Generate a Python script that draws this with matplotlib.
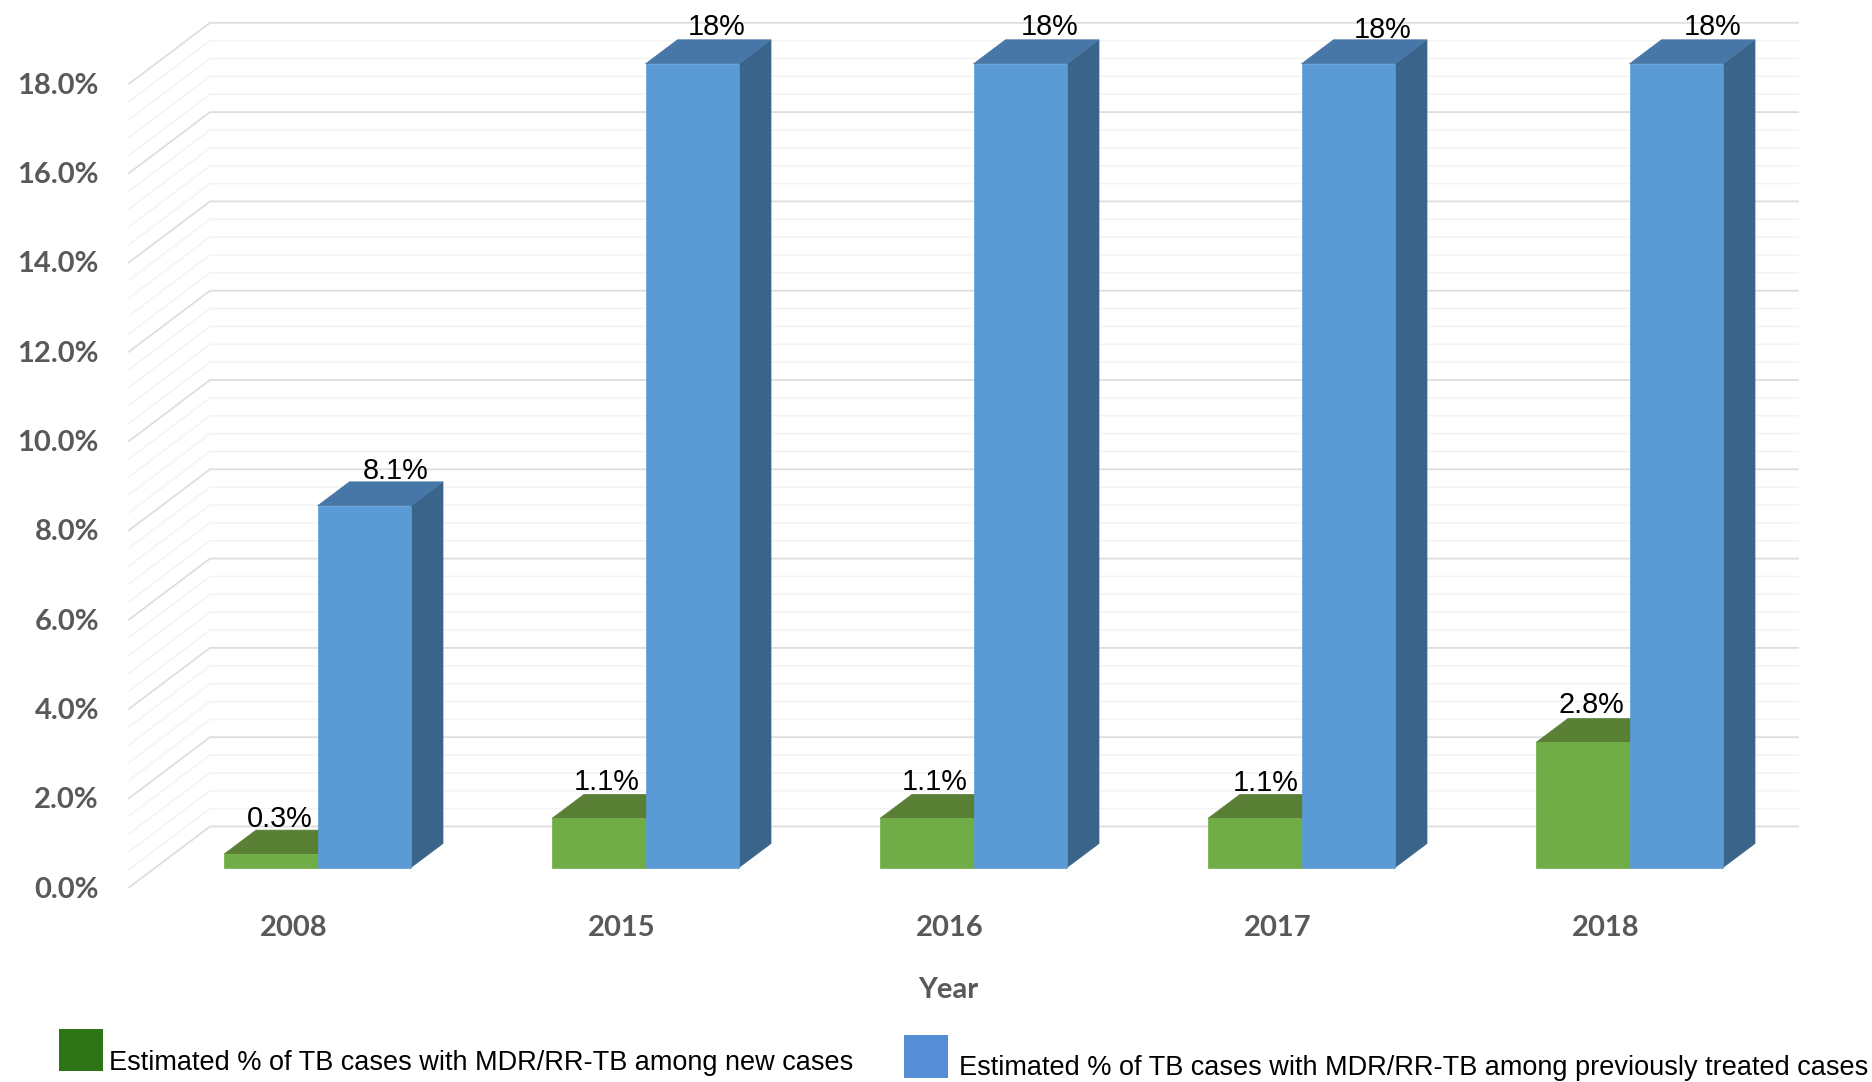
import numpy as np
import matplotlib
matplotlib.use('Agg')
import matplotlib.pyplot as plt
from matplotlib.patches import Polygon, Rectangle

years = ['2008', '2015', '2016', '2017', '2018']
new_cases = [0.3, 1.1, 1.1, 1.1, 2.8]
prev_treated = [8.1, 18, 18, 18, 18]
new_labels = ['0.3%', '1.1%', '1.1%', '1.1%', '2.8%']
prev_labels = ['8.1%', '18%', '18%', '18%', '18%']
y_ticks = [0, 2, 4, 6, 8, 10, 12, 14, 16, 18]
legend_new = 'Estimated % of TB cases with MDR/RR-TB among new cases'
legend_prev = 'Estimated % of TB cases with MDR/RR-TB among previously treated cases'

W, H = 1872, 1082
PX_PER_CAT = 328.0      # pixels between year groups
PX_PER_PCT = 44.65      # pixels per percentage point
X0_PX, Y0_PX = 317.5, 867.5   # where the first group centre / bar base sits

fig = plt.figure(figsize=(W / 100, H / 100), dpi=100, facecolor='white')
ax = fig.add_axes([0, 0, 1, 1])
ax.set_xlim(-X0_PX / PX_PER_CAT, (W - X0_PX) / PX_PER_CAT)
ax.set_ylim(-(H - Y0_PX) / PX_PER_PCT, Y0_PX / PX_PER_PCT)
ax.axis('off')


def dx(px):
    return px / PX_PER_CAT


def dy(px):
    return px / PX_PER_PCT


bar_w = dx(93.5)
# oblique offset of a bar's back edge
depth_x, depth_y = dx(32), dy(24)

# wall: front edge of the floor, back corner, right end of the back wall
front_x, front_y = dx(129 - X0_PX), dy(-20)
back_x, back_y = dx(210 - X0_PX), dy(41)
right_x = dx(1798 - X0_PX)

for v in np.arange(0, 18.01, 0.4):
    major = abs(v / 2 - round(v / 2)) < 1e-6
    c = '#dedede' if major else '#f3f3f3'
    lw = 1.3 if major else 1.1
    ax.plot([front_x, back_x, right_x],
            [front_y + v, back_y + v, back_y + v],
            color=c, lw=lw, zorder=1, solid_joinstyle='miter')


def box(x_left, value, front, top, side, z):
    x_right = x_left + bar_w
    ax.add_patch(Polygon([(x_right, 0), (x_right + depth_x, depth_y),
                          (x_right + depth_x, value + depth_y), (x_right, value)],
                         closed=True, fc=side, ec=side, lw=0.5, zorder=z))
    ax.add_patch(Polygon([(x_left, value), (x_left + depth_x, value + depth_y),
                          (x_right + depth_x, value + depth_y), (x_right, value)],
                         closed=True, fc=top, ec=top, lw=0.5, zorder=z))
    ax.add_patch(Rectangle((x_left, 0), bar_w, value, fc=front, ec=front, lw=0.5,
                           zorder=z + 0.1))


for i in range(len(years)):
    box(i - bar_w, new_cases[i], '#70ad47', '#5a8035', '#4f7530', 2 + i * 0.01)
    box(i, prev_treated[i], '#5b9bd5', '#4777a6', '#3a6489', 3 + i * 0.01)

# data labels were nudged by hand, offsets in pixels from the bar's top back edge
new_off = [(-7, 11), (-8, 12), (-8, 12), (-5, 11), (-7, 13)]
prev_off = [(31, 11), (24, 13), (29, 13), (34, 10), (36, 13)]
lab_font = dict(family='Liberation Sans', fontsize=20.8, color='black',
                ha='center', va='center', zorder=6)
for i in range(len(years)):
    ax.text(i - bar_w / 2 + depth_x / 2 + dx(new_off[i][0]),
            new_cases[i] + depth_y + dy(new_off[i][1]), new_labels[i], **lab_font)
    ax.text(i + bar_w / 2 + depth_x / 2 + dx(prev_off[i][0] - 16),
            prev_treated[i] + depth_y + dy(prev_off[i][1]), prev_labels[i], **lab_font)

tick_font = dict(family='Lato', fontweight='bold', fontsize=21, color='#595959')
for v in y_ticks:
    ax.text(dx(99 - X0_PX), front_y + v - dy(2), f'{v:.1f}%', ha='right', va='center', **tick_font)
for i, yr in enumerate(years):
    ax.text(i + dx(-24), dy(-61), yr, ha='center', va='center', **tick_font)
ax.text(dx(948 - X0_PX), dy(-123), 'Year', ha='center', va='center', **tick_font)

# legend is laid out by hand, the two entries do not share a baseline
ax.add_patch(Rectangle((dx(59 - X0_PX), dy(Y0_PX - 1071)), dx(44), dy(42), fc='#2e7518', ec='none', zorder=5))
ax.add_patch(Rectangle((dx(904 - X0_PX), dy(Y0_PX - 1078)), dx(44), dy(43), fc='#558ed5', ec='none', zorder=5))
leg_font = dict(family='Liberation Sans', fontsize=19.55, color='black', ha='left', va='baseline')
ax.text(dx(109 - X0_PX), dy(Y0_PX - 1070), legend_new, **leg_font)
ax.text(dx(959 - X0_PX), dy(Y0_PX - 1075), legend_prev, **leg_font)

fig.savefig('out.png', dpi=100, facecolor='white')
